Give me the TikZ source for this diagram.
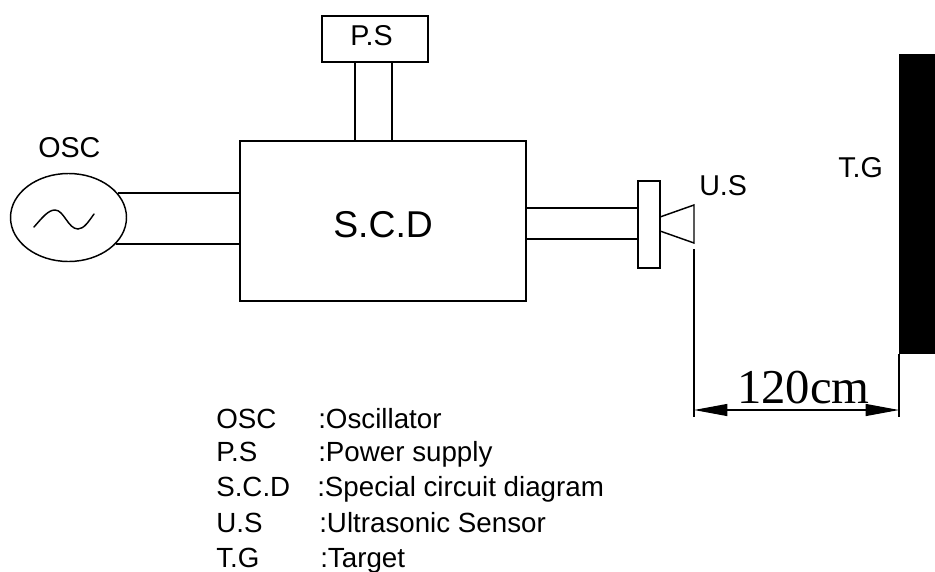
\documentclass[tikz,border=0pt]{standalone}
\usepackage{fontspec}
\setmainfont{Liberation Sans}
\newfontfamily\dimfont{Liberation Serif}
\usetikzlibrary{arrows.meta,shapes.geometric}
\tikzset{
wire/.style={line width=1.1pt},
box/.style={draw,line width=1.1pt,inner sep=0pt,outer sep=0pt},
lbl/.style={inner sep=0pt,font=\fontsize{21.5}{21.5}\selectfont,anchor=base west},
leg/.style={inner sep=0pt,font=\fontsize{20.8}{21}\selectfont,anchor=base west},
dimarrow/.style={<->,>={Triangle[length=25pt,width=9pt]},line width=0.8pt}
}
\begin{document}
\begin{tikzpicture}[x=0.75pt,y=-0.75pt]
\useasboundingbox (0,0) rectangle (935,571);
% boxes
\node[box,minimum width=79.5pt,minimum height=34.5pt] (PS) at (375,39) {};
\node[box,minimum width=214.5pt,minimum height=120pt] (SCD) at (383,221) {};
\node[box,ellipse,minimum width=87pt,minimum height=66pt] (OSC) at (68.5,217.5) {};
\node[box,minimum width=16.5pt,minimum height=65pt] (US) at (649,224.5) {};
\node[fill=black,inner sep=0pt,outer sep=0pt,minimum width=27pt,minimum height=225pt] (TG) at (917,204) {};
% power supply legs
\coordinate (p1) at (355,62);
\coordinate (p2) at (392,62);
\coordinate (p3) at (355,141);
\coordinate (p4) at (392,141);
\draw[wire](p1)--(p3);
\draw[wire](p2)--(p4);
% oscillator
\coordinate (o1) at (118,193);
\coordinate (o2) at (240,193);
\coordinate (o3) at (116,244);
\coordinate (o4) at (240,244);
\draw[wire](o1)--(o2);
\draw[wire](o3)--(o4);
\draw[wire,line cap=round] (34,227) .. controls (42,218) and (48,210) .. (55,210) .. controls (64,210) and (68,229) .. (78,229) .. controls (84,229) and (89,221) .. (94,214);
% sensor
\coordinate (s1) at (526,208);
\coordinate (s2) at (638,208);
\coordinate (s3) at (526,239);
\coordinate (s4) at (638,239);
\draw[wire](s1)--(s2);
\draw[wire](s3)--(s4);
\coordinate (h1) at (660,217);
\coordinate (h2) at (694,205);
\coordinate (h3) at (694,243);
\coordinate (h4) at (660,231);
\draw[wire](h1)--(h2)--(h3)--(h4);
% distance
\coordinate (d1) at (694,249);
\coordinate (d2) at (694,417);
\coordinate (d3) at (899,354);
\coordinate (d4) at (899,417);
\coordinate (a1) at (694,410);
\coordinate (a2) at (899,410);
\draw[line width=0.8pt](d1)--(d2);
\draw[line width=0.8pt](d3)--(d4);
\draw[dimarrow](a1)--(a2);
\node[inner sep=0pt,anchor=base west,font=\dimfont\fontsize{36.5}{36.5}\selectfont] (dist) at (737,403) {120cm};
% labels
\node[lbl] (psl) at (350,45) {P.S};
\node[inner sep=0pt,anchor=base west,font=\fontsize{28}{28}\selectfont] (scdl) at (333,237.5) {S.C.D};
\node[lbl] (oscl) at (38,157) {OSC};
\node[lbl] (usl) at (699,195) {U.S};
\node[lbl] (tgl) at (838,177) {T.G};
% legend
\node[leg] (k1) at (216,428) {OSC};
\node[leg] (v1) at (318,428) {:Oscillator};
\node[leg] (k2) at (216,461) {P.S};
\node[leg] (v2) at (318,461) {:Power supply};
\node[leg] (k3) at (216,496) {S.C.D};
\node[leg] (v3) at (317,496) {:Special circuit diagram};
\node[leg] (k4) at (216,532) {U.S};
\node[leg] (v4) at (319,532) {:Ultrasonic Sensor};
\node[leg] (k5) at (216,567) {T.G};
\node[leg] (v5) at (320,567) {:Target};
\end{tikzpicture}
\end{document}
